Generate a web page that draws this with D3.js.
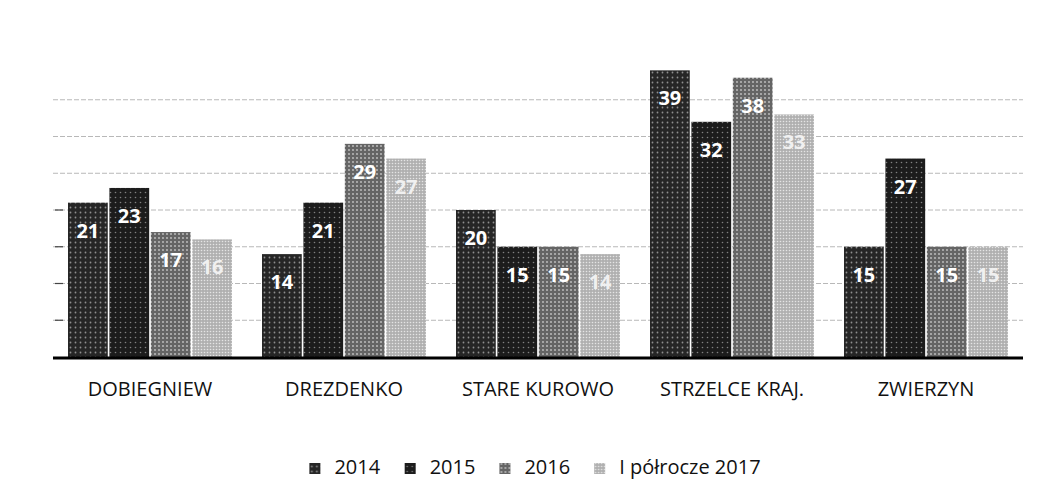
<!DOCTYPE html>
<html>
<head>
<meta charset="utf-8">
<script src="https://cdn.jsdelivr.net/npm/d3@7"></script>
<style>
  body { margin: 0; background: #fff; }
  svg { display: block; }
  text { font-family: "Open Sans", "Liberation Sans", sans-serif; }
</style>
</head>
<body>
<svg id="chart"></svg>
<script>
const categories = ["DOBIEGNIEW", "DREZDENKO", "STARE KUROWO", "STRZELCE KRAJ.", "ZWIERZYN"];
const seriesNames = ["2014", "2015", "2016", "I półrocze 2017"];
const values2014 = [21, 14, 20, 39, 15];
const values2015 = [23, 21, 15, 32, 27];
const values2016 = [17, 29, 15, 38, 15];
const valuesH2017 = [16, 27, 14, 33, 15];
const yTicks = [0, 5, 10, 15, 20, 25, 30, 35, 40];

const allSeries = [values2014, values2015, values2016, valuesH2017];

let dims = { width: 1051, height: 504, left: 53, right: 1023, top: 63, bottom: 357 };

const svg = d3.select("#chart")
  .attr("width", dims.width)
  .attr("height", dims.height);

// textured fills like the printed chart
const fills = [
  { id: "p2014", base: "#262626", dot: "#8f8f8f", step: 5, r: 0.9 },
  { id: "p2015", base: "#1c1c1c", dot: "#808080", step: 5, r: 0.8 },
  { id: "p2016", base: "#656565", dot: "#c4c4c4", step: 4, r: 0.9 },
  { id: "p2017", base: "#b0b0b0", dot: "#e4e4e4", step: 3, r: 0.8 }
];
const defs = svg.append("defs");
fills.forEach(f => {
  const p = defs.append("pattern")
    .attr("id", f.id)
    .attr("patternUnits", "userSpaceOnUse")
    .attr("width", f.step)
    .attr("height", f.step);
  p.append("rect").attr("width", f.step).attr("height", f.step).attr("fill", f.base);
  p.append("circle").attr("cx", f.step / 2).attr("cy", f.step / 2).attr("r", f.r).attr("fill", f.dot);
});

const x0 = d3.scaleBand()
  .domain(categories)
  .range([dims.left, dims.right])
  .padding(0);

const x1 = d3.scaleBand()
  .domain(seriesNames)
  .range([15, x0.bandwidth() - 15])
  .paddingInner(0.04);

const y = d3.scaleLinear()
  .domain([0, 40])
  .range([dims.bottom, dims.top]);

// gridlines (faint in the print, top one barely there)
svg.append("g")
  .selectAll("line")
  .data(yTicks.filter(d => d > 0 && d < 40))
  .join("line")
  .attr("x1", dims.left)
  .attr("x2", dims.right)
  .attr("y1", d => y(d))
  .attr("y2", d => y(d))
  .attr("stroke", "#b8b8b8")
  .attr("stroke-width", 1)
  .attr("stroke-dasharray", "5,2");

// small ticks on the left
svg.append("g")
  .selectAll("line")
  .data(yTicks.filter(d => d > 0 && d <= 20))
  .join("line")
  .attr("x1", dims.left + 2)
  .attr("x2", dims.left + 10)
  .attr("y1", d => y(d))
  .attr("y2", d => y(d))
  .attr("stroke", "#444")
  .attr("stroke-width", 1.2);

const rows = categories.map((c, i) => ({
  cat: c,
  vals: seriesNames.map((s, j) => ({ s: s, j: j, v: allSeries[j][i] }))
}));

const groups = svg.append("g")
  .selectAll("g")
  .data(rows)
  .join("g")
  .attr("transform", d => `translate(${x0(d.cat)},0)`);

groups.selectAll("rect")
  .data(d => d.vals)
  .join("rect")
  .attr("x", d => x1(d.s))
  .attr("width", x1.bandwidth())
  .attr("y", d => y(d.v))
  .attr("height", d => y(0) - y(d.v))
  .attr("fill", d => `url(#${fills[d.j].id})`);

groups.selectAll("text")
  .data(d => d.vals)
  .join("text")
  .attr("x", d => x1(d.s) + x1.bandwidth() / 2)
  .attr("y", d => y(d.v) + 35)
  .attr("text-anchor", "middle")
  .attr("font-size", 20)
  .attr("font-weight", "bold")
  .attr("fill", d => d.j === 3 ? "#f0f0f0" : "#fff")
  .text(d => d.v);

// x axis line
svg.append("line")
  .attr("x1", dims.left)
  .attr("x2", dims.right)
  .attr("y1", y(0) + 1)
  .attr("y2", y(0) + 1)
  .attr("stroke", "#000")
  .attr("stroke-width", 3);

// category labels
svg.append("g")
  .selectAll("text")
  .data(categories)
  .join("text")
  .attr("x", d => x0(d) + x0.bandwidth() / 2)
  .attr("y", 396)
  .attr("text-anchor", "middle")
  .attr("font-size", 20)
  .attr("fill", "#111")
  .text(d => d);

// legend
const legend = svg.append("g");
const items = legend.selectAll("g")
  .data(seriesNames)
  .join("g");
items.append("rect")
  .attr("width", 11)
  .attr("height", 11)
  .attr("y", -11)
  .attr("fill", (d, i) => `url(#${fills[i].id})`);
items.append("text")
  .attr("x", 25)
  .attr("y", 0)
  .attr("font-size", 20)
  .attr("fill", "#111")
  .text(d => d);

let cursor = 0;
items.each(function () {
  const w = this.getBBox().width;
  d3.select(this).attr("transform", `translate(${cursor},0)`);
  cursor += w + 24;
});
const legendW = cursor - 24;
legend.attr("transform", `translate(${535 - legendW / 2},474)`);
</script>
</body>
</html>
